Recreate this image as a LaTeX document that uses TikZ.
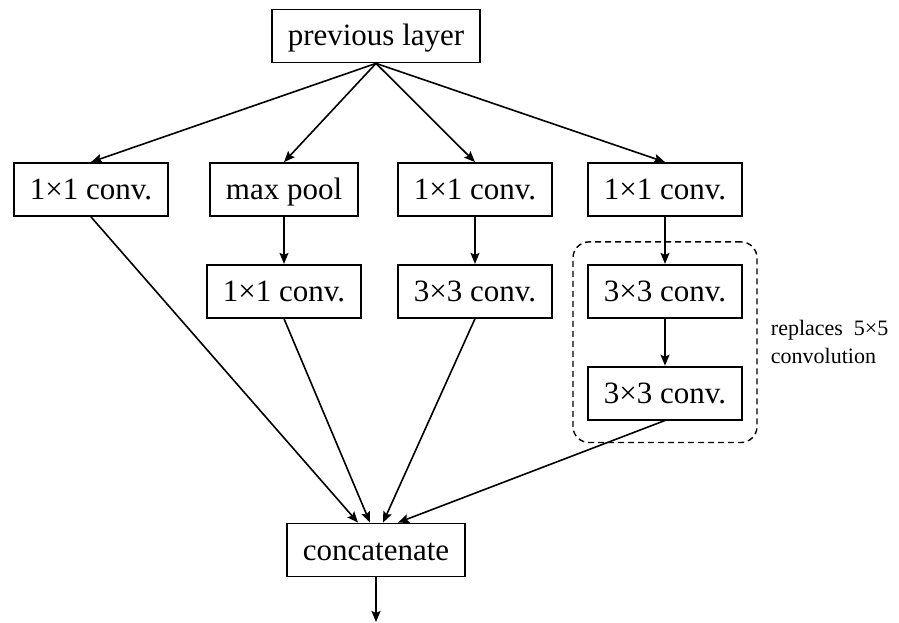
\documentclass[tikz,border=0pt]{standalone}
\usepackage{fontspec}
\setmainfont{Liberation Serif}
\usetikzlibrary{positioning,fit,arrows.meta}
\tikzset{
  incfont/.style={font=\fontsize{31}{36}\selectfont},
  incbox/.style={draw, line width=1.8pt, inner xsep=16pt, minimum height=53pt,
    text height=25pt, text depth=5pt, align=center},
  incarrow/.style={-{Stealth[length=11pt,width=9pt,inset=2pt]}, line width=1.6pt},
  incgroup/.style={draw, dash pattern=on 6pt off 4pt, rounded corners=16pt, line width=1.4pt, inner xsep=14pt, inner ysep=22pt},
  incnote/.style={font=\fontsize{22}{28}\selectfont, align=left, inner sep=0pt},
}

\begin{document}
\begin{tikzpicture}[incfont, x=1pt, y=-1pt, node distance=47pt]
  \useasboundingbox (0,0) rectangle (899,623);

  % Input node
  \node[incbox] (prev) at (376,36) {previous layer};

  % First row
  \node[incbox] (conva) at (91,189.5) {1×1 conv.};
  \node[incbox] (pool) at (284,189.5) {max pool};
  \node[incbox] (convc) at (475,189.5) {1×1 conv.};
  \node[incbox] (convd) at (665,189.5) {1×1 conv.};

  % Second and third rows
  \node[incbox, below=of pool] (convb) {1×1 conv.};
  \node[incbox, below=of convc] (threec) {3×3 conv.};
  \node[incbox, below=of convd] (threed) {3×3 conv.};
  \node[incbox, below=of threed] (threee) {3×3 conv.};

  % Dashed group and note
  \node[incgroup, fit=(threed) (threee)] (grp) {};
  \node[incnote, right=13pt of grp] (note) {replaces\ \ 5×5\\convolution};

  % Output node
  \node[incbox] (concat) at (376,550) {concatenate};
  \coordinate (out) at (376,622);

  % Arrows from previous layer
  \draw[incarrow] (prev.south) -- (conva.north);
  \draw[incarrow] (prev.south) -- (pool.north);
  \draw[incarrow] (prev.south) -- (convc.north);
  \draw[incarrow] (prev.south) -- (convd.north);

  % Arrows inside branches
  \draw[incarrow] (pool) -- (convb);
  \draw[incarrow] (convc) -- (threec);
  \draw[incarrow] (convd) -- (threed);
  \draw[incarrow] (threed) -- (threee);

  % Arrows into concatenate
  \draw[incarrow] (conva.south) -- ([xshift=-18pt]concat.north);
  \draw[incarrow] (convb.south) -- ([xshift=-6pt]concat.north);
  \draw[incarrow] (threec.south) -- ([xshift=7pt]concat.north);
  \draw[incarrow] (threee.south) -- ([xshift=22pt]concat.north);
  \draw[incarrow] (concat) -- (out);
\end{tikzpicture}
\end{document}
